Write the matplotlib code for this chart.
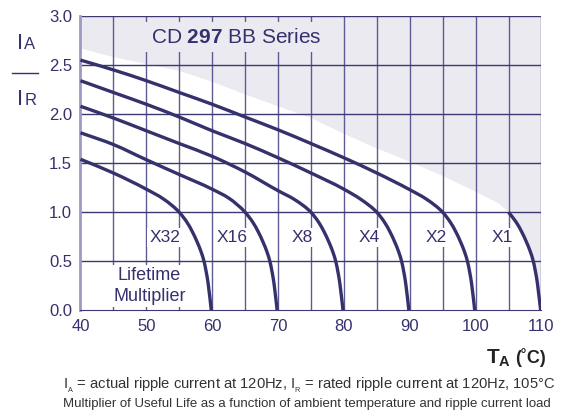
import matplotlib
matplotlib.use("Agg")
import numpy as np
import matplotlib.pyplot as plt
from matplotlib.path import Path
from matplotlib.patches import PathPatch

plt.rcParams['font.family'] = ['Liberation Sans', 'DejaVu Sans']
plt.rcParams['mathtext.fontset'] = 'custom'
plt.rcParams['mathtext.rm'] = 'Liberation Sans'
plt.rcParams['mathtext.it'] = 'Liberation Sans'
plt.rcParams['mathtext.bf'] = 'Liberation Sans:bold'

# curves: ambient temperature (C) vs ripple ratio IA/IR
t_x32 = [40, 45, 50, 52.5, 55, 56.15, 57.0, 57.7, 58.3, 58.76, 59.07, 59.33, 59.52, 59.7, 59.86]
i_x32 = [1.54, 1.40, 1.235, 1.14, 1.0, 0.9, 0.8, 0.7, 0.6, 0.5, 0.4, 0.3, 0.2, 0.1, 0.0]

t_x16 = [40, 45, 50, 55, 60, 62.5, 65, 66.15, 67.0, 67.7, 68.3, 68.76, 69.07, 69.33, 69.52, 69.7, 69.86]
i_x16 = [1.81, 1.69, 1.535, 1.385, 1.235, 1.145, 1.0, 0.9, 0.8, 0.7, 0.6, 0.5, 0.4, 0.3, 0.2, 0.1, 0.0]

t_x8 = [40, 45, 50, 55, 60, 65, 70, 72.5, 75, 76.15, 77.0, 77.7, 78.3, 78.76, 79.07, 79.33, 79.52, 79.7, 79.86]
i_x8 = [2.08, 1.96, 1.83, 1.70, 1.57, 1.41, 1.22, 1.13, 1.0, 0.9, 0.8, 0.7, 0.6, 0.5, 0.4, 0.3, 0.2, 0.1, 0.0]

t_x4 = [40, 45, 50, 55, 60, 65, 70, 75, 80, 82.5, 85, 86.15, 87.0, 87.7, 88.3, 88.76, 89.07, 89.33, 89.52, 89.7, 89.86]
i_x4 = [2.34, 2.22, 2.10, 1.97, 1.83, 1.70, 1.555, 1.40, 1.235, 1.135, 1.0, 0.9, 0.8, 0.7, 0.6, 0.5, 0.4, 0.3, 0.2, 0.1, 0.0]

t_x2 = [40, 45, 50, 55, 60, 65, 70, 75, 80, 85, 90, 92.5, 95, 96.15, 97.0, 97.7, 98.3, 98.76, 99.07, 99.33, 99.52, 99.7, 99.86]
i_x2 = [2.55, 2.45, 2.34, 2.22, 2.10, 1.97, 1.84, 1.70, 1.555, 1.40, 1.23, 1.135, 1.0, 0.9, 0.8, 0.7, 0.6, 0.5, 0.4, 0.3, 0.2, 0.1, 0.0]

t_x1 = [105, 106.15, 107.0, 107.7, 108.3, 108.76, 109.07, 109.33, 109.52, 109.7, 109.88]
i_x1 = [1.0, 0.9, 0.8, 0.7, 0.6, 0.5, 0.4, 0.3, 0.2, 0.1, 0.0]

# edge of the grey (not allowed) area
t_edge = [40, 45, 50, 55, 60, 65, 70, 75, 80, 85, 90, 95, 100, 103.5, 105]
i_edge = [2.67, 2.58, 2.51, 2.44, 2.33, 2.20, 2.08, 1.96, 1.80, 1.65, 1.515, 1.37, 1.21, 1.09, 1.0]

labels = ["X32", "X16", "X8", "X4", "X2", "X1"]
label_t = [52.8, 63.0, 73.6, 83.8, 94.0, 104.0]
label_i = 0.74

x_ticks = [40, 50, 60, 70, 80, 90, 100, 110]
y_ticks = [0.0, 0.5, 1.0, 1.5, 2.0, 2.5, 3.0]

navy = '#35316c'
grid_h = '#3b3872'
grid_v = '#5e5b92'
shade = '#ebeaf1'

# pixels per data unit, used to make the spline look even on screen
sx = 461.0 / 70
sy = 294.6 / 3


def smooth_path(t, v):
    # cubic bezier through the read points, Bessel tangents on chord length
    p = np.column_stack([np.array(t) * sx, np.array(v) * sy])
    h = np.hypot(*np.diff(p, axis=0).T)
    sec = np.diff(p, axis=0) / h[:, None]
    m = np.zeros_like(p)
    m[0] = sec[0]
    m[-1] = sec[-1]
    for k in range(1, len(p) - 1):
        m[k] = (h[k] * sec[k - 1] + h[k - 1] * sec[k]) / (h[k - 1] + h[k])
    verts = [p[0]]
    codes = [Path.MOVETO]
    for k in range(len(p) - 1):
        c = h[k] / 3
        verts += [p[k] + m[k] * c, p[k + 1] - m[k + 1] * c, p[k + 1]]
        codes += [Path.CURVE4] * 3
    verts = np.array(verts) / [sx, sy]
    return Path(verts, codes)


fig = plt.figure(figsize=(5.66, 4.12), dpi=100)
ax = fig.add_axes([0.1422, 0.2464, 0.8145, 0.715])
ax.set_xlim(40, 110)
ax.set_ylim(0, 3)

# grey region above the edge and right of the X1 curve
poly_t = t_edge + t_x1 + [110, 110, 40]
poly_i = i_edge + i_x1 + [0.0, 3.0, 3.0]
ax.fill(poly_t, poly_i, color=shade, lw=0, zorder=0)

for t in range(45, 115, 5):
    ax.axvline(t, color=grid_v, lw=1.0, zorder=1)
for v in [0.5, 1.0, 1.5, 2.0, 2.5, 3.0]:
    ax.axhline(v, color=grid_h, lw=1.0, zorder=1)

curves = [(t_x32, i_x32), (t_x16, i_x16), (t_x8, i_x8),
          (t_x4, i_x4), (t_x2, i_x2), (t_x1, i_x1)]
for t, i in curves:
    ax.add_patch(PathPatch(smooth_path(t, i), fc='none', ec=navy, lw=2.4,
                           capstyle='butt', joinstyle='round', zorder=4))

for lab, t in zip(labels, label_t):
    ax.text(t, label_i, lab, ha='center', va='center', fontsize=12.5, color=navy,
            zorder=3, bbox=dict(boxstyle='square,pad=0.12', fc='white', ec='none'))

ax.text(50.45, 0.25, "Lifetime\nMultiplier", ha='center', va='center', fontsize=13,
        color=navy, linespacing=1.3, zorder=3,
        bbox=dict(boxstyle='square,pad=0.1', fc='white', ec='none'))

ax.text(63.6, 2.785, r"CD $\mathbf{297}$ BB Series", ha='center', va='center',
        fontsize=15, color=navy, zorder=3,
        bbox=dict(boxstyle='square,pad=0.25', fc=shade, ec='none'))

for s in ['top', 'right']:
    ax.spines[s].set_visible(False)
ax.spines['bottom'].set_color(grid_h)
ax.spines['left'].set_color('#9d9bc2')
ax.spines['left'].set_linewidth(2.0)

ax.set_xticks(x_ticks)
ax.set_yticks(y_ticks)
ax.set_yticklabels([f"{v:.1f}" for v in y_ticks])
ax.tick_params(length=0, labelsize=12, labelcolor=navy, pad=6)
ax.tick_params(axis='y', pad=6)

# y label drawn as IA over IR
fig.text(0.030, 0.880, "I", fontsize=16, color=navy, ha='left', va='baseline')
fig.text(0.043, 0.880, "A", fontsize=12, color=navy, ha='left', va='baseline')
fig.add_artist(plt.Line2D([0.022, 0.068], [0.823, 0.823], color=navy, lw=1))
fig.text(0.030, 0.745, "I", fontsize=16, color=navy, ha='left', va='baseline')
fig.text(0.043, 0.745, "R", fontsize=12, color=navy, ha='left', va='baseline')

fig.text(0.859, 0.118, r"$\mathbf{T_A}$", fontsize=15, color='#222222',
         ha='left', va='baseline')
fig.text(0.965, 0.118, "(˚C)", fontsize=13, fontweight='bold', color='#222222',
         ha='right', va='baseline')

fig.text(0.112, 0.057, r"I$_{_A}$ = actual ripple current at 120Hz, I$_{_R}$ = rated ripple current at 120Hz, 105°C",
         fontsize=10.6, color='#333333', ha='left', va='baseline')
fig.text(0.112, 0.013, "Multiplier of Useful Life as a function of ambient temperature and ripple current load",
         fontsize=9.5, color='#333333', ha='left', va='baseline')

fig.savefig("out.png", dpi=100)
